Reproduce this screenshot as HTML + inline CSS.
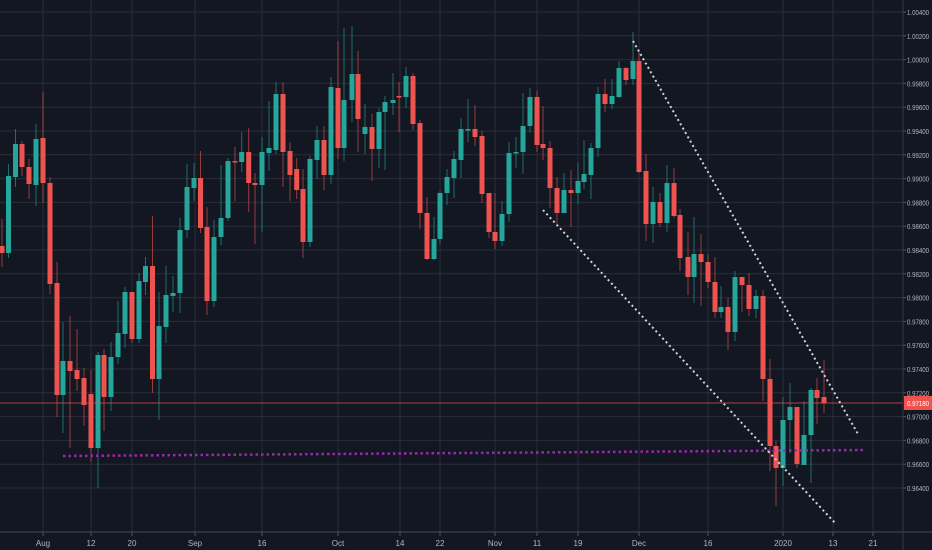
<!DOCTYPE html>
<html><head><meta charset="utf-8"><style>
html,body{margin:0;padding:0;background:#131722;}
svg{display:block;font-family:"Liberation Sans",sans-serif;}
</style></head><body>
<svg id="s" width="932" height="550" xmlns="http://www.w3.org/2000/svg">
<rect width="932" height="550" fill="#131722"/>
<g id="grid" stroke="#2a2e39" stroke-width="1"></g>
<g id="wicks"></g>
<g id="bodies"></g>
<line x1="0" y1="403" x2="903" y2="403" stroke="#ef5350" stroke-width="1" opacity="0.7"/>
<line x1="63" y1="456" x2="865" y2="450" stroke="#9c27b0" stroke-width="2.5" stroke-dasharray="2.5,3"/>
<line x1="633" y1="41" x2="858" y2="434" stroke="#d1d4dc" stroke-width="2" stroke-dasharray="2,3"/>
<line x1="543" y1="210" x2="836" y2="524" stroke="#d1d4dc" stroke-width="2" stroke-dasharray="2,3"/>
<line x1="903" y1="0" x2="903" y2="550" stroke="#363a45"/>
<line x1="0" y1="532" x2="932" y2="532" stroke="#363a45" stroke-width="1.5"/>
<g id="labels" fill="#b2b5be" font-size="7.5"></g>
<rect x="904" y="396" width="28" height="14" fill="#ef5350"/>
<text x="907" y="406" fill="#fff" font-size="7.5" textLength="22" lengthAdjust="spacingAndGlyphs">0.97180</text>
</svg>
<script>
var ns="http://www.w3.org/2000/svg";
function el(t,a,p){var e=document.createElementNS(ns,t);for(var k in a)e.setAttribute(k,a[k]);document.getElementById(p).appendChild(e);return e;}
for(var k=0;k<=20;k++){var y=12+23.8*k;el('line',{x1:0,y1:y,x2:903,y2:y},'grid');
var p=(1.004-0.002*k).toFixed(5);var t=el('text',{x:907,y:y+3,textLength:22,lengthAdjust:'spacingAndGlyphs'},'labels');t.textContent=p;
el('line',{x1:903,y1:y,x2:906,y2:y,stroke:'#555'},'labels');}
var vx=[[43,'Aug'],[91,'12'],[132,'20'],[195,'Sep'],[262,'16'],[338,'Oct'],[400,'14'],[440,'22'],[495,'Nov'],[537,'11'],[578,'19'],[639,'Dec'],[708,'16'],[783,'2020'],[833,'13'],[873,'21']];
vx.forEach(function(v){el('line',{x1:v[0],y1:0,x2:v[0],y2:532},'grid');
var t=el('text',{x:v[0],y:546,'text-anchor':'middle','font-size':8},'labels');t.textContent=v[1];
el('line',{x1:v[0],y1:532,x2:v[0],y2:536,stroke:'#555'},'labels');});
var c=[
[2,0,246,253,219,267],[8.5,1,176,253,164,258],[15.5,1,144,177,129,187],[22,0,144,167,141,176],[29,0,167,184,159,199],[36,1,139,185,124,206],[43,0,138,183,92,203],[50,0,183,284,177,294],[57,0,283,395,262,417],[63,1,361,395,322,433],[70,0,361,371,316,448],[77,0,370,379,329,391],[84,0,378,405,368,426],[91,0,394,448,370,462],[98,1,355,448,352,488],[104,0,355,397,349,431],[111,1,357,397,342,411],[118,1,333,357,301,364],[125,1,292,334,287,348],[132,0,292,339,292,343],[139,1,281,339,273,343],[145.5,1,266,282,257,295],[152.5,0,266,379,216,393],[159,1,326,379,292,420],[166,1,295,327,266,343],[173,1,293,296,276,312],[180,1,230,293,218,313],[187,1,187,230,164,238],[194,1,178,188,163,201],[200.5,0,178,228,151,233],[207,0,227,301,207,315],[214,1,237,301,220,307],[221,1,218,237,165,245],[228,1,161,218,158,221],[235,0,161,162,147,201],
[241.7,1,152,162,132,172],[248.7,0,152,183,128,212],[255,0,183,185,173,244],[262,1,152,185,137,232],[269,1,148,153,101,171],[276,1,94,150,82,154],[283,0,94,152,82,187],[290,0,151,175,142,201],[296.7,0,169,190,158,199],[303,0,189,242,169,258],[310,1,159,242,156,247],[317,1,140,160,126,179],[324,0,140,175,126,190],[331,1,87,175,77,184],[338,0,88,148,41,159],[344,1,100,148,28,161],[352,1,74,100,26,122],[358,0,74,119,51,152],[365,1,127,134,104,154],[372,0,127,149,114,181],[379,1,112,149,108,168],[385,1,102,112,96,170],[393,1,100,103,73,115],[399,0,96,97,82,132],[406,1,76,97,67,108],[413,0,76,124,73,130],[420,0,123,213,120,229],[427,0,213,259,197,260],[434,1,239,259,217,260],[440,1,193,239,191,244],[447,1,177,193,169,205],[454,1,159,178,151,198],[461,1,129,160,118,178],[468,1,129,130,99,142],
[475,0,129,137,105,146],[482,0,136,194,131,203],[489,0,193,232,193,238],[495,0,232,241,193,249],[502,1,214,241,201,246],[509,1,153,214,142,222],[516,1,152,153,137,168],[523,1,126,152,93,174],[530,1,97,126,88,133],[537,0,97,145,91,152],[543,0,144,148,106,160],[550,0,148,188,141,208],[557,0,188,213,177,224],[564,1,190,213,173,213],[571,0,190,193,170,227],[578,1,181,193,163,204],[584,1,174,182,140,189],[591,1,148,175,143,199],[598,1,94,148,87,157],[605,0,94,104,79,112],[612,1,96,104,79,109],[619,1,68,97,61,98],[626,0,68,80,67,85],[633,1,61,79,32,85],[639,0,61,172,51,173],[646,0,171,224,154,241],[653,1,202,224,187,243],[660,0,202,223,193,227],[667,1,183,223,165,232],[674,0,183,216,168,218],[680,0,215,258,209,271],[688,0,257,277,232,295],[694,1,254,277,217,303],
[701,0,254,262,234,306],[708,0,262,282,254,288],[715,0,282,312,257,318],[721,1,307,312,286,318],[728,0,307,332,298,350],[735,1,277,332,271,341],[742,0,277,285,277,312],[749,0,285,309,273,316],[756,1,296,309,290,318],[763,0,296,379,290,401],[770,0,379,446,359,471],[776,0,446,468,441,506],[783,1,420,468,397,486],[790,1,407,420,383,453],[797,0,407,464,407,468],[804,1,435,465,401,465],[811,1,390,435,388,483],[817,0,390,398,378,424],[824,0,397,403,360,413]];
c.forEach(function(d){var col=d[1]?'#26a69a':'#ef5350';
el('line',{x1:d[0],y1:d[4],x2:d[0],y2:d[5],stroke:col,'stroke-width':1,opacity:0.6},'wicks');
var h=Math.max(d[3]-d[2],1.5);
el('rect',{x:d[0]-2.5,y:d[2],width:5,height:h,fill:col},'bodies');});
</script>
</body></html>
